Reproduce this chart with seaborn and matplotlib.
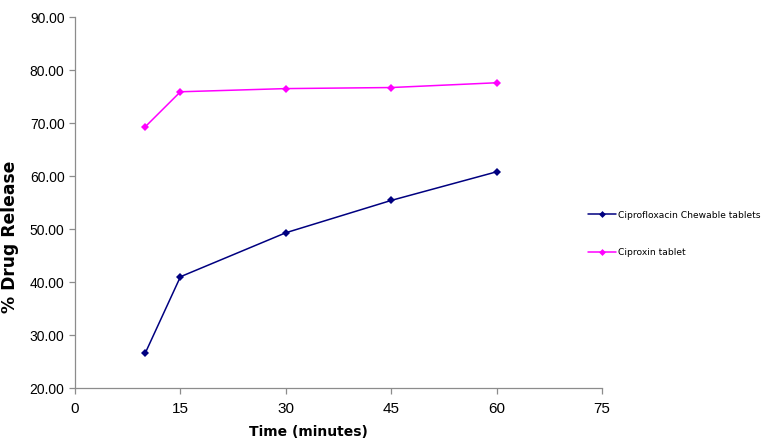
import matplotlib
matplotlib.use("Agg")
import matplotlib.pyplot as plt
import pandas as pd
import seaborn as sns

# dissolution time points (minutes)
time_min = [10, 15, 30, 45, 60]
chewable = [26.6, 41.0, 49.3, 55.4, 60.8]
ciproxin = [69.3, 75.9, 76.5, 76.7, 77.6]

series_names = ["Ciprofloxacin Chewable tablets", "Ciproxin tablet"]
x_ticks = [0, 15, 30, 45, 60, 75]
y_ticks = [20, 30, 40, 50, 60, 70, 80, 90]

df = pd.DataFrame({
    "time": time_min * 2,
    "release": chewable + ciproxin,
    "product": [series_names[0]] * len(time_min) + [series_names[1]] * len(time_min),
})

sns.set_style("white")
plt.rcParams["text.color"] = "black"
plt.rcParams["axes.labelcolor"] = "black"
plt.rcParams["xtick.color"] = "black"
plt.rcParams["ytick.color"] = "black"

fig = plt.figure(figsize=(7.63, 4.45), dpi=100)
ax = fig.add_axes([0.0983, 0.128, 0.6907, 0.8337])

sns.lineplot(data=df, x="time", y="release", hue="product", style="product",
             palette={series_names[0]: "#000080", series_names[1]: "#FF00FF"},
             markers={series_names[0]: "D", series_names[1]: "D"},
             dashes=False, markersize=4.5, linewidth=1.1, markeredgewidth=0,
             ax=ax, legend=False)

ax.set_xlim(0, 75)
ax.set_ylim(20, 90)
ax.set_xticks(x_ticks)
ax.set_yticks(y_ticks)
ax.set_yticklabels([f"{v:.2f}" for v in y_ticks], family="Liberation Sans", fontsize=10)
ax.set_xticklabels([str(v) for v in x_ticks], family="Liberation Sans", fontsize=11)
ax.tick_params(axis="x", pad=6)

for side in ["top", "right"]:
    ax.spines[side].set_visible(False)
for side in ["left", "bottom"]:
    ax.spines[side].set_color("#8c8c8c")
    ax.spines[side].set_linewidth(0.9)
ax.tick_params(axis="both", direction="out", length=4, width=0.9, color="#8c8c8c",
               labelcolor="black", bottom=True, left=True)

ax.set_xlabel("Time (minutes)", fontsize=10, fontweight="bold", family="DejaVu Sans")
ax.set_ylabel("% Drug Release", fontsize=12.3, fontweight="bold", family="DejaVu Sans")
# labels sit a little off-centre in the original
ax.xaxis.set_label_coords(0.442, -0.1)
ax.yaxis.set_label_coords(-0.106, 0.407)

handles = [
    plt.Line2D([], [], color="#000080", marker="D", markersize=3.5, linewidth=1.1, markeredgewidth=0),
    plt.Line2D([], [], color="#FF00FF", marker="D", markersize=3.5, linewidth=1.1, markeredgewidth=0),
]
fig.legend(handles, series_names, loc="upper left", bbox_to_anchor=(0.766, 0.535),
           frameon=False, prop={"family": "DejaVu Sans", "size": 6.6},
           handlelength=3.0, handletextpad=0.3, labelspacing=3.1, borderaxespad=0)

fig.savefig("out.png", dpi=100)
